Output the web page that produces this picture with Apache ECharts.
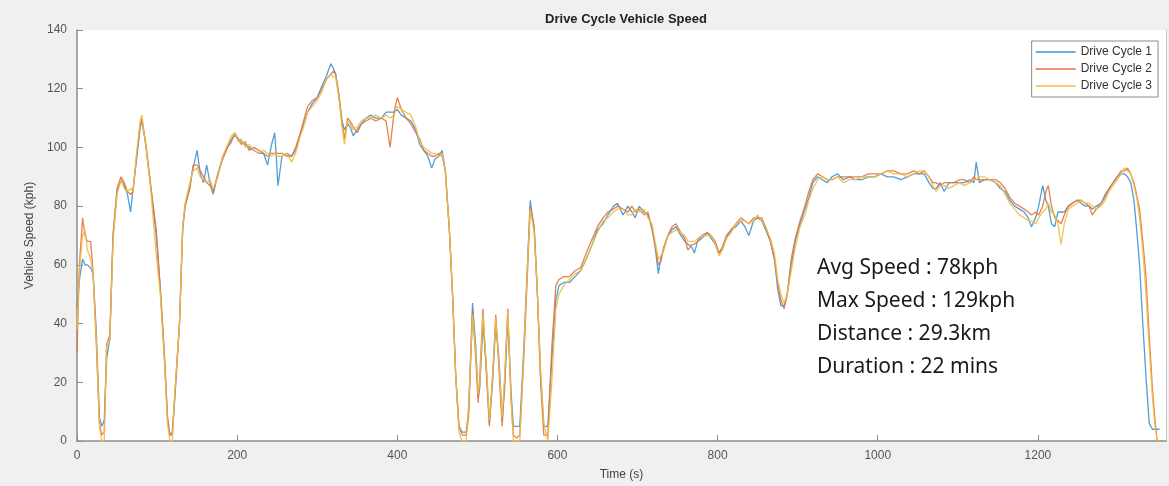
<!DOCTYPE html>
<html>
<head>
<meta charset="utf-8">
<script src="https://cdn.jsdelivr.net/npm/echarts@6/dist/echarts.min.js"></script>
<style>
html,body{margin:0;padding:0;background:#f0f0f0;}
#chart{width:1169px;height:486px;}
</style>
</head>
<body>
<div id="chart"></div>
<script>
// Time stamps (s)
const time = [0,3,7,10,13,17,20,24,28,31,34,37,41,45,50,55,59,63,67,70,74,79,81,86,92,99,104,109,113,116,119,122,128,132,135,141,145,150,154,158,162,166,170,176,182,188,193,197,201,205,210,215,221,227,233,238,243,247,251,256,262,268,273,278,283,288,294,300,306,311,317,320,323,327,331,334,338,341,345,350,355,361,367,373,380,386,391,396,400,405,411,417,423,428,433,438,443,447,452,456,460,465,469,473,477,481,486,489,494,498,501,503,507,511,515,519,523,527,531,534,538,542,545,549,553,558,563,566,571,575,579,583,588,593,598,602,608,615,622,629,636,642,650,657,663,670,675,682,688,693,697,702,708,713,718,722,726,729,733,738,743,748,754,759,763,768,771,775,780,787,792,797,802,806,811,817,823,829,834,839,845,850,855,860,866,871,875,879,883,887,892,897,903,909,914,919,925,931,937,943,950,957,965,972,980,988,996,1004,1012,1020,1029,1037,1045,1052,1058,1064,1069,1073,1078,1083,1089,1095,1102,1108,1115,1120,1123,1127,1133,1140,1147,1153,1159,1165,1171,1177,1183,1188,1192,1197,1201,1206,1210,1213,1217,1221,1225,1229,1233,1238,1243,1249,1254,1259,1264,1268,1273,1279,1284,1289,1294,1299,1304,1308,1312,1316,1320,1324,1327,1331,1335,1339,1343,1346,1349,1352];

const cycle1 = [45,55,62,60,60,59,57,38,8,5,7,28,35,70,85,89,87,84,78,86,95,107,109,101,87,70,52,30,8,2,2,14,40,72,80,87,93,99,91,88,94,88,84,91,97,100,102,105,103,102,101,100,99,98,98,94,101,105,87,97,98,97,99,104,108,112,115,117,121,124,128.5,127,125,118,109,106,108,107,104,106,108,110,111,110,110,112,112,112,113,111,110,109,106,101,99,97,93,96,97,99,92,72,50,22,5,3,3,10,47,32,15,18,40,26,6,20,40,28,7,18,42,17,5,5,5,32,63,82,72,50,22,5,5,28,48,53,54,54,56,58,62,66,72,74,77,80,81,77,80,78,76,80,78,77,73,66,57,62,66,70,72,73,70,68,67,66,64,68,69,71,69,67,64,66,69,72,73,75,73,70,75,76,75,72,68,62,52,46,46,50,60,68,74,79,83,88,90,89,88,90,91,89,90,89,89,90,90,91,90,90,89,90,91,91,91,88,86,86,88,85,88,88,88,88,89,88,95,88,89,89,88,86,85,82,80,79,78,76,73,76,80,87,82,80,74,73,78,78,78,80,81,82,81,80,80,79,80,81,84,86,88,90,91,91,90,88,82,70,60,40,22,6,4,4,4,4];

const cycle2 = [30,60,76,70,68,68,58,34,6,2,3,33,36,70,86,90,88,85,84,85,96,108,110,101,87,72,52,30,8,2,3,15,40,73,80,86,94,94,92,90,88,87,85,91,96,100,103,104,103,101,102,99,100,99,98,97,98,98,98,98,97,97,100,104,109,114,116,117,120,123,125,126,125,118,108,103,110,109,107,105,108,109,110,109,110,109,100,112,117,113,110,108,105,103,99,98,97,97,98,97,92,72,50,22,5,2,2,8,44,28,13,22,45,24,5,22,43,24,5,20,45,14,2,1,2,28,60,80,73,50,20,2,2,32,53,55,56,56,58,59,64,68,73,76,78,79,80,79,78,80,78,79,77,78,72,67,60,61,66,70,73,74,71,69,65,67,67,68,70,71,70,68,64,66,70,72,74,76,75,74,76,76,76,73,68,62,54,48,45,50,62,69,75,80,85,89,91,90,89,89,90,90,90,90,90,91,91,91,92,92,91,91,92,91,92,90,88,88,87,88,88,88,89,89,88,90,89,89,89,89,89,88,86,83,81,80,79,78,77,78,77,80,85,87,80,76,75,74,77,80,81,82,82,81,80,77,79,81,83,86,88,90,92,92,93,91,88,83,79,68,56,36,18,8,0,0];

const cycle3 = [38,58,70,72,65,62,57,35,5,0,0,32,34,68,84,89,86,85,86,85,97,109,111,100,86,63,50,28,6,0,0,16,40,73,81,88,92,93,90,89,88,89,86,90,97,101,104,105,102,103,100,101,99,98,99,98,97,98,97,97,98,95,98,103,107,112,114,116,119,123,125,124,124,117,107,101,109,108,106,107,109,110,110,111,110,111,110,111,114,113,112,111,107,102,100,99,98,98,97,98,92,72,50,22,3,0,0,12,43,30,16,20,43,27,7,22,42,26,8,22,44,15,0,0,0,30,62,79,71,50,24,6,0,20,45,50,53,55,57,58,62,66,71,75,76,78,79,79,77,77,79,78,79,76,74,68,62,63,65,70,71,72,71,70,68,68,68,69,70,70,70,67,63,65,69,71,74,75,75,74,75,77,75,73,69,64,55,50,47,50,58,66,73,77,82,86,89,90,89,89,90,88,89,89,90,90,90,91,92,91,91,90,91,92,92,90,87,85,87,87,86,87,88,87,88,89,89,90,90,89,88,87,84,81,79,77,76,75,75,74,76,78,79,81,78,77,74,67,74,79,80,81,82,81,81,80,79,80,82,85,87,89,91,93,92,91,87,82,76,65,50,32,15,6,0,0];

const seriesNames = ['Drive Cycle 1','Drive Cycle 2','Drive Cycle 3'];
const xTicks = [0,200,400,600,800,1000,1200];
const yTicks = [0,20,40,60,80,100,120,140];
const statsLines = ['Avg Speed : 78kph','Max Speed : 129kph','Distance : 29.3km','Duration : 22 mins'];

const colors = ['#3f93d2','#e2733f','#f1bb42'];
const seriesVals = [cycle1, cycle2, cycle3];

const chart = echarts.init(document.getElementById('chart'), null, {renderer:'canvas'});
const axisFont = 'Liberation Sans, Arial, sans-serif';

const option = {
  backgroundColor: '#f0f0f0',
  animation: false,
  title: {
    text: 'Drive Cycle Vehicle Speed',
    left: 621, top: 8, textAlign: 'center',
    textStyle: {fontFamily: axisFont, fontSize: 13, fontWeight: 'bold', color: '#222'}
  },
  legend: {
    orient: 'vertical', right: 11, top: 41,
    data: seriesNames,
    icon: 'rect', itemWidth: 40, itemHeight: 1.5, itemGap: 5,
    backgroundColor: '#ffffff', borderColor: '#8a8a8a', borderWidth: 1,
    padding: [5, 6, 5, 4],
    textStyle: {fontFamily: axisFont, fontSize: 12, color: '#333'}
  },
  grid: {left: 77, right: 3, top: 30, bottom: 45, show: true, backgroundColor: '#ffffff', borderWidth: 0},
  xAxis: {
    type: 'value', min: 0, max: 1360, interval: 200,
    name: 'Time (s)', nameLocation: 'middle', nameGap: 28,
    nameTextStyle: {fontFamily: axisFont, fontSize: 12, color: '#444'},
    axisLine: {show: true, lineStyle: {color: '#8c8c8c', width: 1.5}},
    axisTick: {show: true, inside: true, length: 6, lineStyle: {color: '#8c8c8c'}},
    axisLabel: {fontFamily: axisFont, fontSize: 12, color: '#555', margin: 9, showMaxLabel: false,
      formatter: v => xTicks.indexOf(v) >= 0 ? String(v) : ''},
    splitLine: {show: false}
  },
  yAxis: [{
    type: 'value', min: 0, max: 140, interval: 20,
    name: 'Vehicle Speed (kph)', nameLocation: 'middle', nameGap: 33, nameRotate: 90,
    nameTextStyle: {fontFamily: axisFont, fontSize: 12, color: '#444'},
    axisLine: {show: true, lineStyle: {color: '#8c8c8c', width: 1.5}},
    axisTick: {show: true, inside: true, length: 6, lineStyle: {color: '#8c8c8c'}},
    axisLabel: {fontFamily: axisFont, fontSize: 12, color: '#555', margin: 10,
      formatter: v => yTicks.indexOf(v) >= 0 ? String(v) : ''},
    splitLine: {show: false}
  },{
    type: 'value', min: 0, max: 140, interval: 20, position: 'right',
    axisLine: {show: true, lineStyle: {color: '#c8c8c8', width: 1}},
    axisTick: {show: false}, axisLabel: {show: false}, splitLine: {show: false}
  }],
  series: seriesNames.map((name, k) => ({
    name: name, type: 'line', showSymbol: false, symbol: 'none',
    data: time.map((t, i) => [t, seriesVals[k][i]]),
    lineStyle: {color: colors[k], width: 1.3, opacity: 0.9},
    itemStyle: {color: colors[k]},
    z: 2 + k
  })),
  graphic: statsLines.map((s, i) => ({
    type: 'text', left: 817, top: 258 + i * 32.8, z: 100,
    style: {text: s, fontFamily: 'Noto Sans, Open Sans, sans-serif', fontSize: 21, fill: '#1a1a1a'}
  }))
};
chart.setOption(option);
</script>
</body>
</html>
